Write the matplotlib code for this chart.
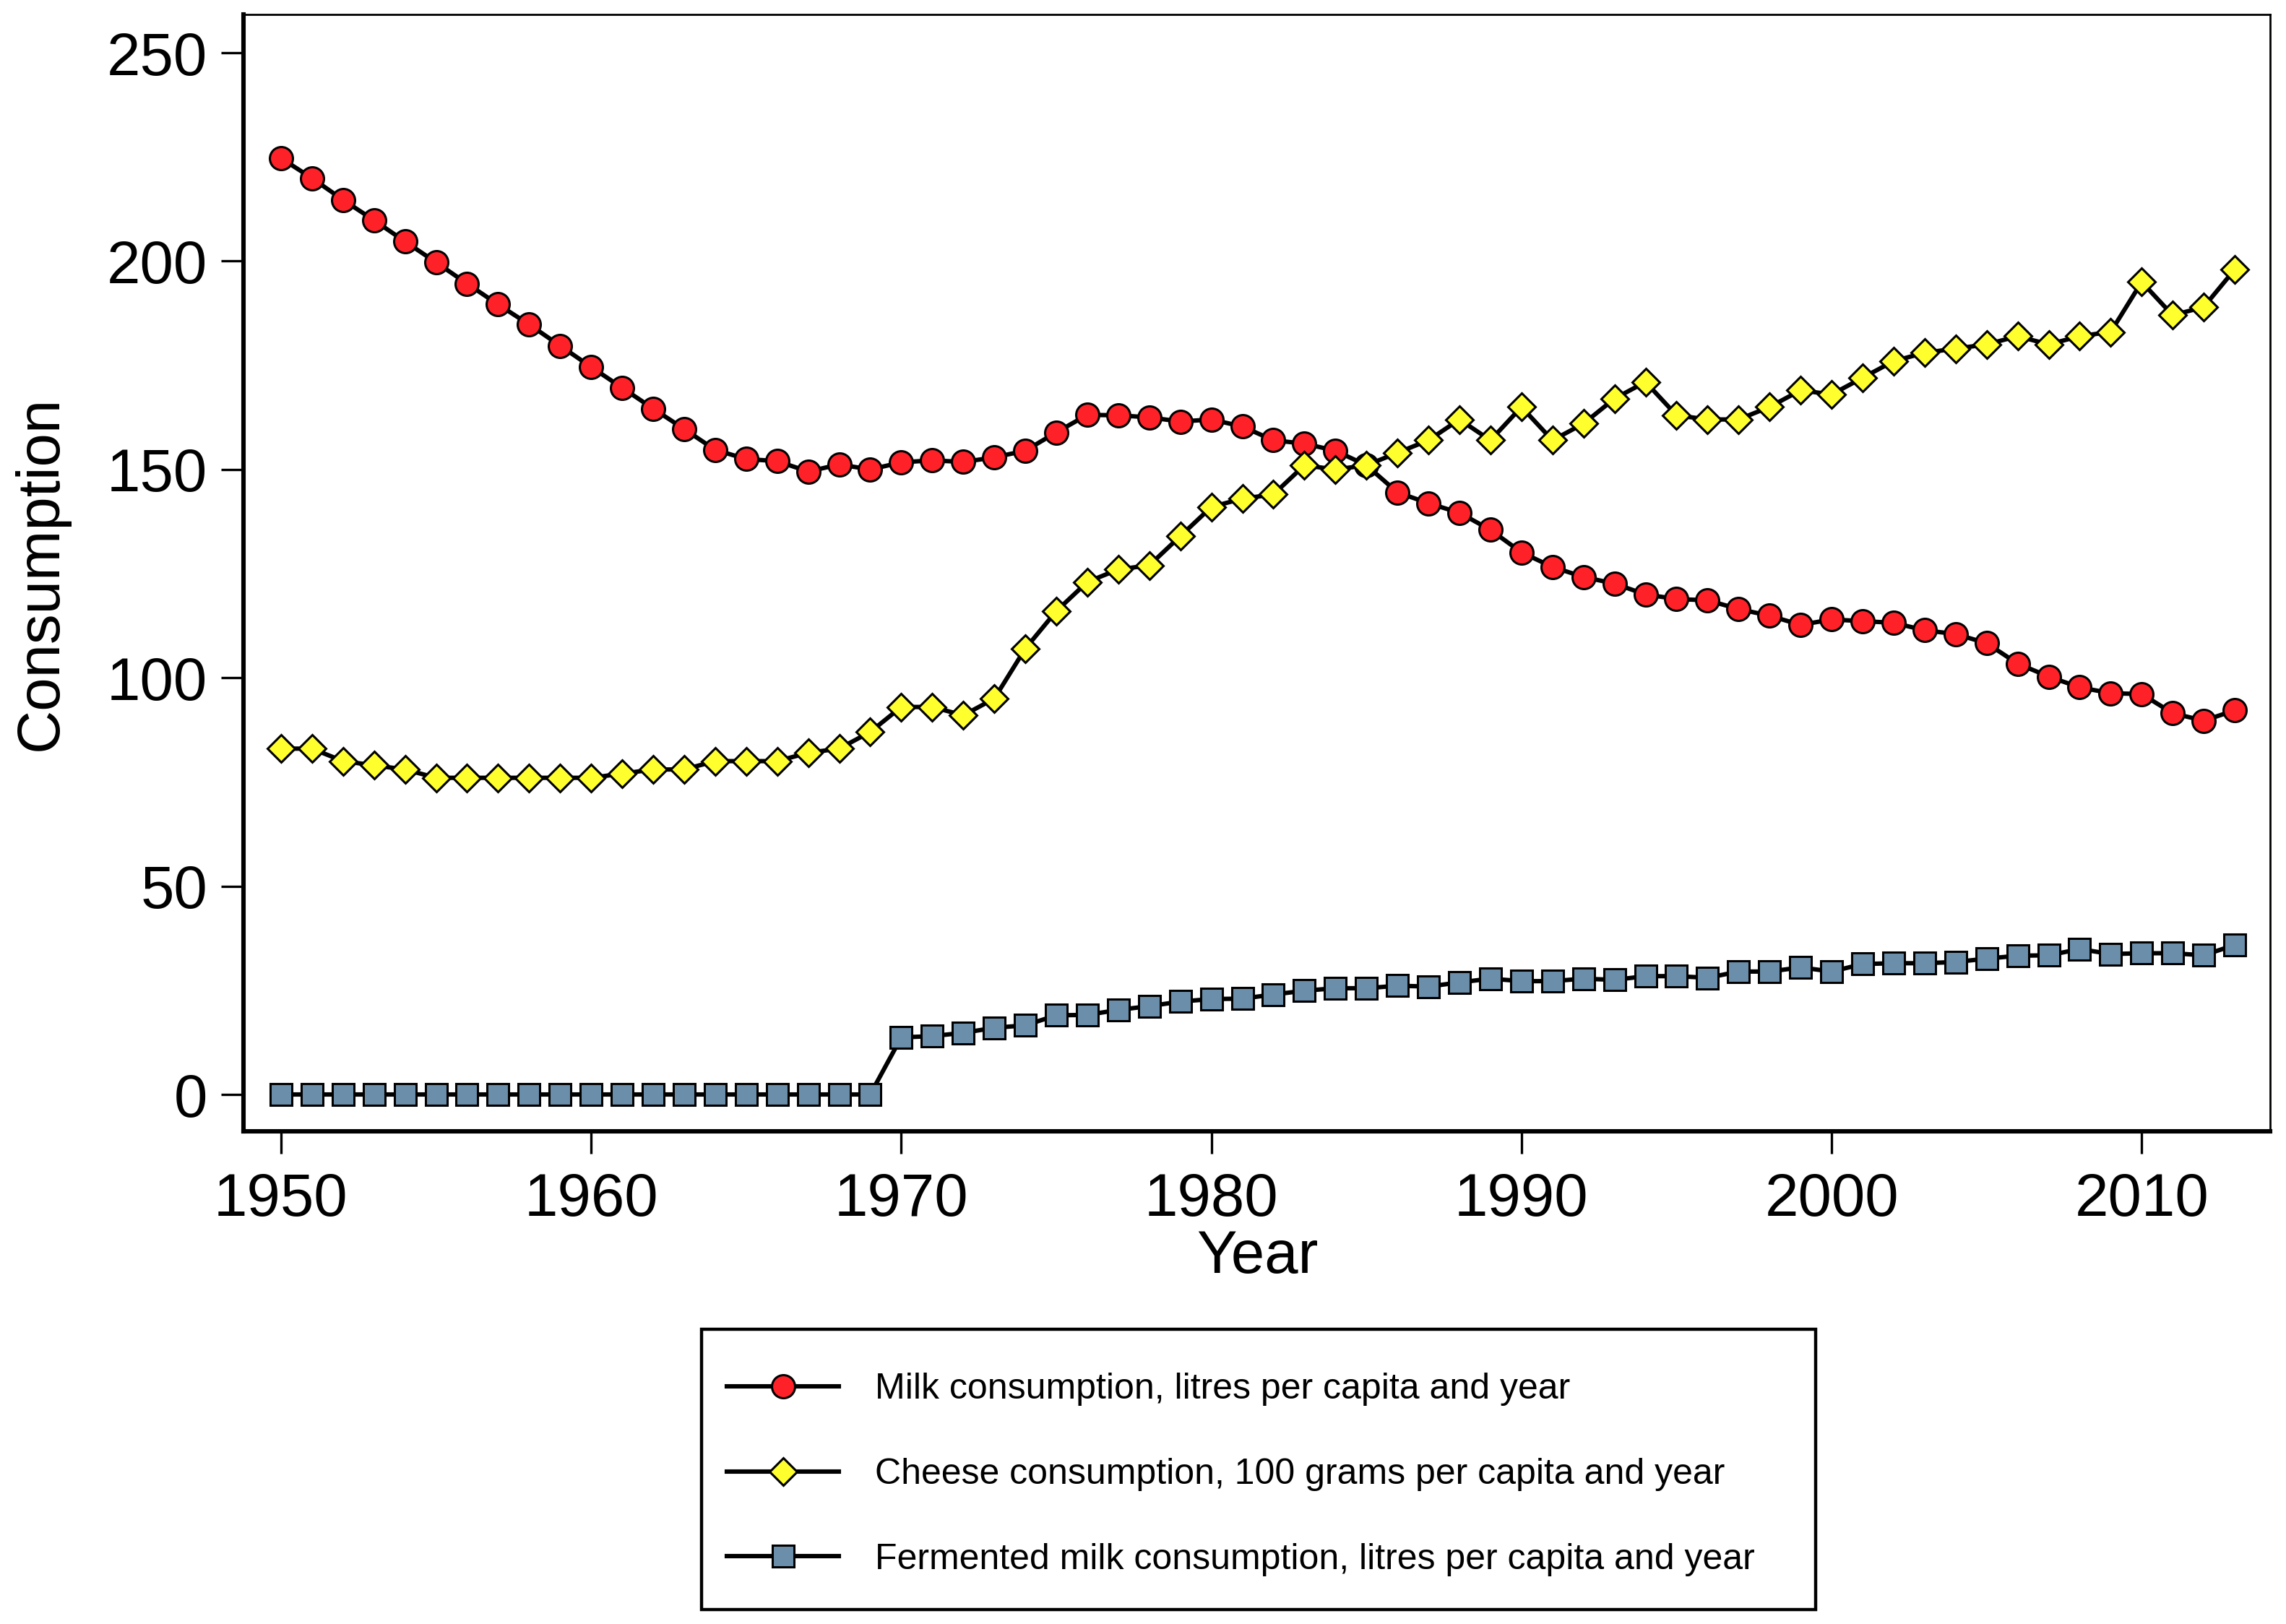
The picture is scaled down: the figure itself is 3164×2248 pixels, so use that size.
import matplotlib
matplotlib.use("Agg")
import matplotlib.pyplot as plt
from matplotlib.patches import Rectangle

plt.rcParams['font.family'] = ['Liberation Sans', 'DejaVu Sans']

# Data
years = list(range(1950, 2014))
milk = [224.7, 219.9, 214.7, 209.8, 204.7, 199.7, 194.6, 189.6, 184.8, 179.7,
        174.6, 169.6, 164.6, 159.7, 154.7, 152.5, 152.0, 149.5, 151.2, 150.0,
        151.7, 152.2, 151.8, 152.9, 154.5, 158.9, 163.1, 163.0, 162.5, 161.5,
        162.0, 160.3, 157.0, 156.2, 154.5, 151.0, 144.5, 141.9, 139.6, 135.5,
        130.1, 126.6, 124.2, 122.6, 120.0, 118.9, 118.6, 116.5, 114.9, 112.7,
        114.0, 113.6, 113.2, 111.4, 110.5, 108.3, 103.4, 100.3, 97.7, 96.3,
        96.1, 91.5, 89.7, 92.2]
cheese = [83, 83, 80, 79, 78, 76, 76, 76, 76, 76,
          76, 77, 78, 78, 80, 80, 80, 82, 83, 87,
          93, 93, 91, 95, 107, 116, 123, 126, 127, 134,
          141, 143, 144, 151, 150, 151, 154, 157, 162, 157,
          165, 157, 161, 167, 171, 163, 162, 162, 165, 169,
          168, 172, 176, 178, 179, 180, 182, 180, 182, 183,
          195, 187, 189, 198]
fermented = [0] * 20 + [
    13.7, 14.0, 14.8, 16.0, 16.6, 19.0, 19.1, 20.3, 21.2, 22.3,
    22.9, 23.0, 24.0, 24.9, 25.5, 25.5, 26.1, 25.9, 26.9, 27.8,
    27.2, 27.2, 27.8, 27.5, 28.4, 28.4, 28.0, 29.5, 29.5, 30.5,
    29.5, 31.3, 31.5, 31.5, 31.8, 32.6, 33.3, 33.4, 34.9, 33.7,
    33.9, 33.9, 33.4, 35.9]

labels = ["Milk consumption, litres per capita and year",
          "Cheese consumption, 100 grams per capita and year",
          "Fermented milk consumption, litres per capita and year"]
xticks = [1950, 1960, 1970, 1980, 1990, 2000, 2010]
yticks = [0, 50, 100, 150, 200, 250]

W, H = 3164, 2248
fig = plt.figure(figsize=(W / 200, H / 200), dpi=200)
ax = fig.add_axes([337 / W, 1 - 1566 / H, (3142 - 337) / W, (1566 - 20) / H])

line_kw = dict(color="black", lw=2.2, mec="black", mew=1.1)
ax.plot(years, milk, marker="o", ms=11.5, mfc="#ff2128", label=labels[0], **line_kw)
ax.plot(years, cheese, marker="D", ms=9.5, mfc="#ffff2e", label=labels[1], **line_kw)
ax.plot(years, fermented, marker="s", ms=11, mfc="#6b8fab", label=labels[2], **line_kw)

ax.set_xlim(1948.79, 2014.14)
ax.set_ylim(-8.84, 259.2)
ax.set_xticks(xticks)
ax.set_yticks(yticks)
ax.tick_params(axis="both", direction="out", length=11, width=1.2, labelsize=30)
ax.tick_params(axis="y", pad=7)
ax.tick_params(axis="x", pad=9)

for side in ["left", "bottom"]:
    ax.spines[side].set_linewidth(2.2)
for side in ["top", "right"]:
    ax.spines[side].set_linewidth(1.0)

fig.text(1740 / W, 1 - 1740 / H, "Year", ha="center", va="center", fontsize=30)
fig.text(57 / W, 1 - 793 / H, "Consumption", ha="center", va="center",
         rotation=90, fontsize=30)

# legend box drawn separately so its size matches the reference
fig.patches.append(Rectangle((971 / W, 1 - 2228 / H), (2513 - 971) / W, (2228 - 1840) / H,
                             transform=fig.transFigure, fill=False, ec="black", lw=1.6))
fig.legend(loc="center left", bbox_to_anchor=(981 / W, 1 - 2041 / H), frameon=False,
           fontsize=18, borderpad=0, handlelength=3.1, handletextpad=1.0,
           labelspacing=1.43)

fig.savefig("out.png", dpi=200, facecolor="white")
